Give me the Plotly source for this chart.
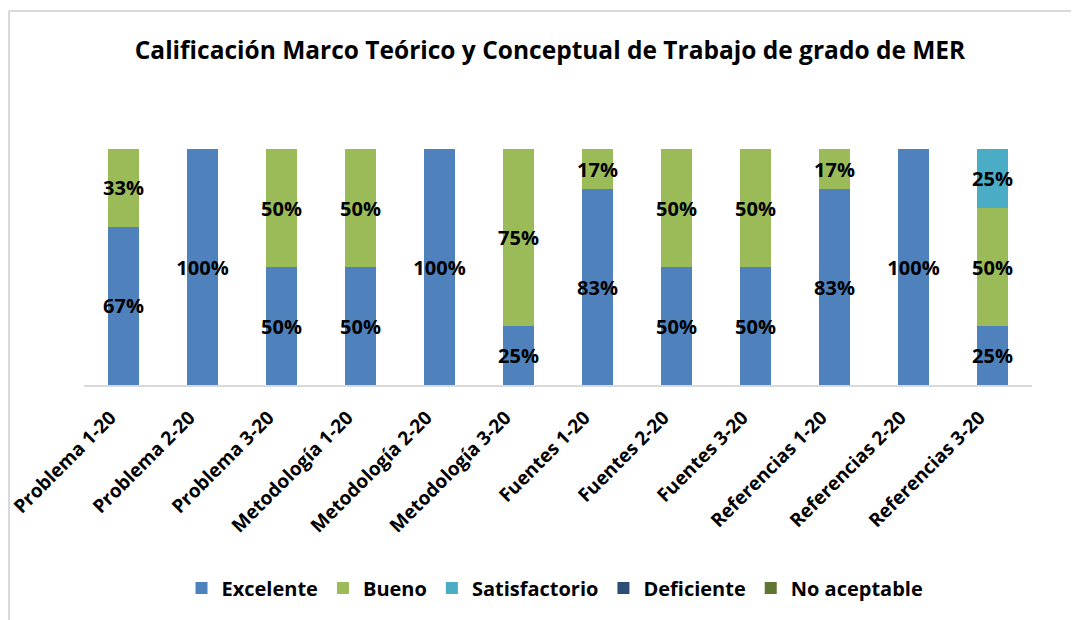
import plotly.graph_objects as go

categories = ["Problema 1-20", "Problema 2-20", "Problema 3-20", "Metodología 1-20",
              "Metodología 2-20", "Metodología 3-20", "Fuentes 1-20", "Fuentes 2-20",
              "Fuentes 3-20", "Referencias 1-20", "Referencias 2-20", "Referencias 3-20"]
excelente = [67, 100, 50, 50, 100, 25, 83, 50, 50, 83, 100, 25]
bueno = [33, 0, 50, 50, 0, 75, 17, 50, 50, 17, 0, 50]
satisfactorio = [0, 0, 0, 0, 0, 0, 0, 0, 0, 0, 0, 25]
deficiente = [0] * 12
no_aceptable = [0] * 12

series = [
    ("Excelente", excelente, "#4F81BD"),
    ("Bueno", bueno, "#9BBB59"),
    ("Satisfactorio", satisfactorio, "#4BACC6"),
    ("Deficiente", deficiente, "#2C4D75"),
    ("No aceptable", no_aceptable, "#5F7530"),
]

FONT = "Open Sans"
fig = go.Figure()
for name, vals, color in series:
    fig.add_trace(go.Bar(
        x=categories, y=vals, name=name,
        marker=dict(color=color, line=dict(width=0)),
        text=[f"{v}%" if v else "" for v in vals],
        textposition="inside", insidetextanchor="middle", textangle=0,
        textfont=dict(family=FONT, size=20, color="black", weight="bold"),
        constraintext="none", cliponaxis=False,
    ))

# page body has an 8px default margin; figure coordinates are relative to it
OFF = 8
W, H = 1079 - OFF, 620 - OFF
ml, mt = 76, 141
mr = W - 1024
mb = H - 377
pw, ph = W - ml - mr, H - mt - mb

def px(x):
    return (x - OFF - ml) / pw

def py(y):
    return (H - mb - (y - OFF)) / ph

fig.update_layout(
    barmode="stack", bargap=0.6,
    width=W, height=H,
    margin=dict(l=ml, r=mr, t=mt, b=mb, autoexpand=False),
    paper_bgcolor="white", plot_bgcolor="white",
    uniformtext=dict(minsize=20, mode="show"),
    title=dict(text="<b>Calificación Marco Teórico y Conceptual de Trabajo de grado de MER</b>",
               x=(550 - OFF) / W, xanchor="center", y=1 - (50 - OFF) / H, yanchor="middle",
               font=dict(family=FONT, size=24.5, color="black")),
    font=dict(family=FONT, color="black"),
    xaxis=dict(tickangle=-45, tickfont=dict(family=FONT, size=19, color="black", weight="bold"),
               ticklabelshift=-13, ticklabelstandoff=12,
               showline=True, linecolor="#D9D9D9", linewidth=2, ticks="", showgrid=False),
    yaxis=dict(range=[0, 100], visible=False, showgrid=False),
    legend=dict(orientation="h", x=px(555), xanchor="center", y=py(588), yanchor="middle",
                font=dict(family=FONT, size=20, color="black", weight="bold"),
                itemwidth=30, traceorder="normal"),
    showlegend=True,
    shapes=[
        dict(type="line", xref="paper", yref="paper", x0=px(9), x1=px(9), y0=py(11), y1=py(640),
             line=dict(color="#D9D9D9", width=2)),
        dict(type="line", xref="paper", yref="paper", x0=px(9), x1=px(1100), y0=py(11), y1=py(11),
             line=dict(color="#D9D9D9", width=2)),
    ],
)

fig.write_html("out.html")
